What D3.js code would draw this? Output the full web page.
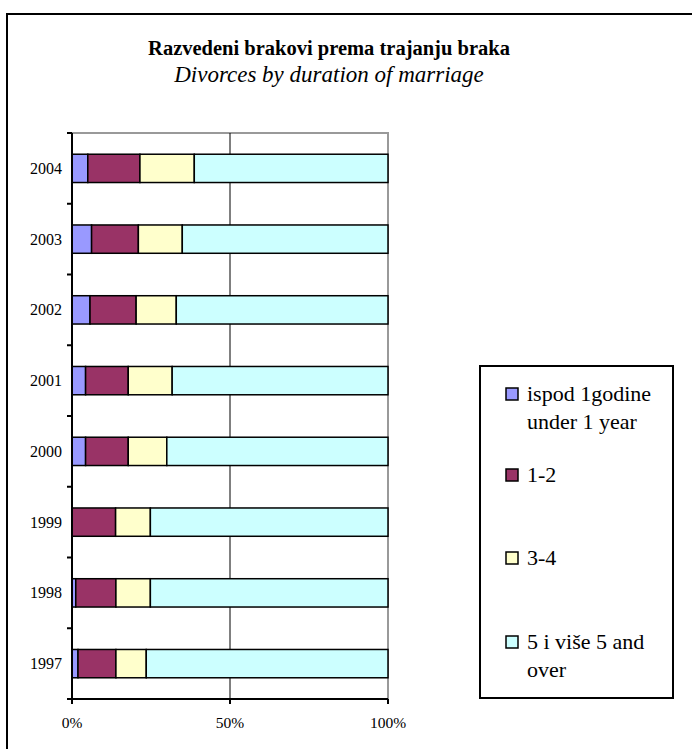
<!DOCTYPE html>
<html>
<head>
<meta charset="utf-8">
<script src="https://cdn.jsdelivr.net/npm/d3@7"></script>
<style>
  body { margin: 0; background: #fff; }
  svg, text, tspan { font-family: "Liberation Serif", "DejaVu Serif", serif; fill: #000; }
</style>
</head>
<body>
<div id="myChart"></div>
<script>
var years = ["2004", "2003", "2002", "2001", "2000", "1999", "1998", "1997"];
var under1 = [5.0, 6.2, 5.7, 4.3, 4.3, 0, 1.2, 1.9];
var y1to2 = [16.5, 14.8, 14.6, 13.5, 13.5, 13.8, 12.7, 12.0];
var y3to4 = [17.2, 13.9, 12.7, 13.9, 12.2, 11.0, 10.9, 9.6];
var y5plus = [61.3, 65.1, 67.0, 68.3, 70.0, 75.2, 75.2, 76.5];
var seriesNames = [["ispod 1godine", "under 1 year"], ["1-2"], ["3-4"], ["5 i više 5 and", "over"]];
var colors = ["#9999ff", "#993366", "#ffffcc", "#ccffff"];
var xTicks = [0, 50, 100];

var W = 692, H = 749;
const margin = { top: 133, left: 72 };
const width = 316, height = 566;

var svg = d3.select("#myChart").append("svg")
  .attr("width", W).attr("height", H)
  .attr("font-family", "Liberation Serif, serif");

// outer frame
svg.append("rect")
  .attr("x", 7).attr("y", 14).attr("width", 720).attr("height", 760)
  .attr("fill", "none").attr("stroke", "#000").attr("stroke-width", 2);

svg.append("text").attr("x", 329).attr("y", 55)
  .attr("text-anchor", "middle").attr("font-weight", "bold").attr("font-size", 20.5)
  .text("Razvedeni brakovi prema trajanju braka");
svg.append("text").attr("x", 329).attr("y", 82)
  .attr("text-anchor", "middle").attr("font-style", "italic").attr("font-size", 23)
  .text("Divorces by duration of marriage");

var g = svg.append("g").attr("transform", "translate(" + margin.left + "," + margin.top + ")");

var x = d3.scaleLinear().domain([0, 100]).range([0, width]);
var y = d3.scaleBand().domain(years).range([0, height]);

// plot frame (grey top/right)
g.append("path")
  .attr("d", "M0,0H" + x(100) + "V" + height)
  .attr("fill", "none").attr("stroke", "#999").attr("stroke-width", 2);

// gridline at 50%
g.append("line")
  .attr("x1", x(50)).attr("x2", x(50)).attr("y1", 0).attr("y2", height)
  .attr("stroke", "#000").attr("stroke-width", 1);

// stacked data
var rows = years.map(function(yr, i) {
  return { year: yr, vals: [under1[i], y1to2[i], y3to4[i], y5plus[i]] };
});
var stack = d3.stack().keys([0, 1, 2, 3]).value(function(d, k) { return d.vals[k]; });
var layers = stack(rows);

var barH = y.bandwidth() * 0.4;
g.selectAll(".layer").data(layers).enter().append("g")
  .attr("fill", function(d, i) { return colors[i]; })
  .selectAll("rect").data(function(d) { return d; }).enter().append("rect")
  .attr("x", function(d) { return x(d[0]); })
  .attr("width", function(d) { return x(d[1]) - x(d[0]); })
  .attr("y", function(d) { return y(d.data.year) + (y.bandwidth() - barH) / 2; })
  .attr("height", barH)
  .attr("stroke", "#000").attr("stroke-width", 1.5);

// y axis
var yAxis = g.append("g");
yAxis.append("line").attr("x1", 0).attr("x2", 0).attr("y1", 0).attr("y2", height)
  .attr("stroke", "#000").attr("stroke-width", 2);
yAxis.selectAll(".tk").data(d3.range(years.length + 1)).enter().append("line")
  .attr("x1", -5).attr("x2", 0)
  .attr("y1", function(i) { return i * y.step(); })
  .attr("y2", function(i) { return i * y.step(); })
  .attr("stroke", "#000").attr("stroke-width", 2);
yAxis.selectAll(".lbl").data(years).enter().append("text")
  .attr("x", -10).attr("y", function(d) { return y(d) + y.bandwidth() / 2; })
  .attr("dy", "0.35em").attr("text-anchor", "end").attr("font-size", 16)
  .text(function(d) { return d; });

// x axis
var xAxis = g.append("g").attr("transform", "translate(0," + height + ")");
xAxis.append("line").attr("x1", 0).attr("x2", width)
  .attr("stroke", "#000").attr("stroke-width", 2);
xAxis.selectAll(".tk").data(xTicks).enter().append("line")
  .attr("x1", function(d) { return x(d); }).attr("x2", function(d) { return x(d); })
  .attr("y1", 0).attr("y2", 5).attr("stroke", "#000").attr("stroke-width", 2);
xAxis.selectAll(".lbl").data(xTicks).enter().append("text")
  .attr("x", function(d) { return x(d); }).attr("y", 29)
  .attr("text-anchor", "middle").attr("font-size", 15.5)
  .text(function(d) { return d + "%"; });

// legend
var leg = svg.append("g");
leg.append("rect").attr("x", 480).attr("y", 366).attr("width", 193).attr("height", 332)
  .attr("fill", "#fff").attr("stroke", "#000").attr("stroke-width", 2);
var legY = [401, 482, 565, 649];
seriesNames.forEach(function(lines, i) {
  leg.append("rect").attr("x", 506).attr("y", legY[i] - 13).attr("width", 12).attr("height", 12)
    .attr("fill", colors[i]).attr("stroke", "#000").attr("stroke-width", 1.5);
  var t = leg.append("text").attr("x", 527).attr("y", legY[i]).attr("font-size", 22);
  lines.forEach(function(s, j) {
    t.append("tspan").attr("x", 527).attr("dy", j ? 28 : 0).text(s);
  });
});
</script>
</body>
</html>
